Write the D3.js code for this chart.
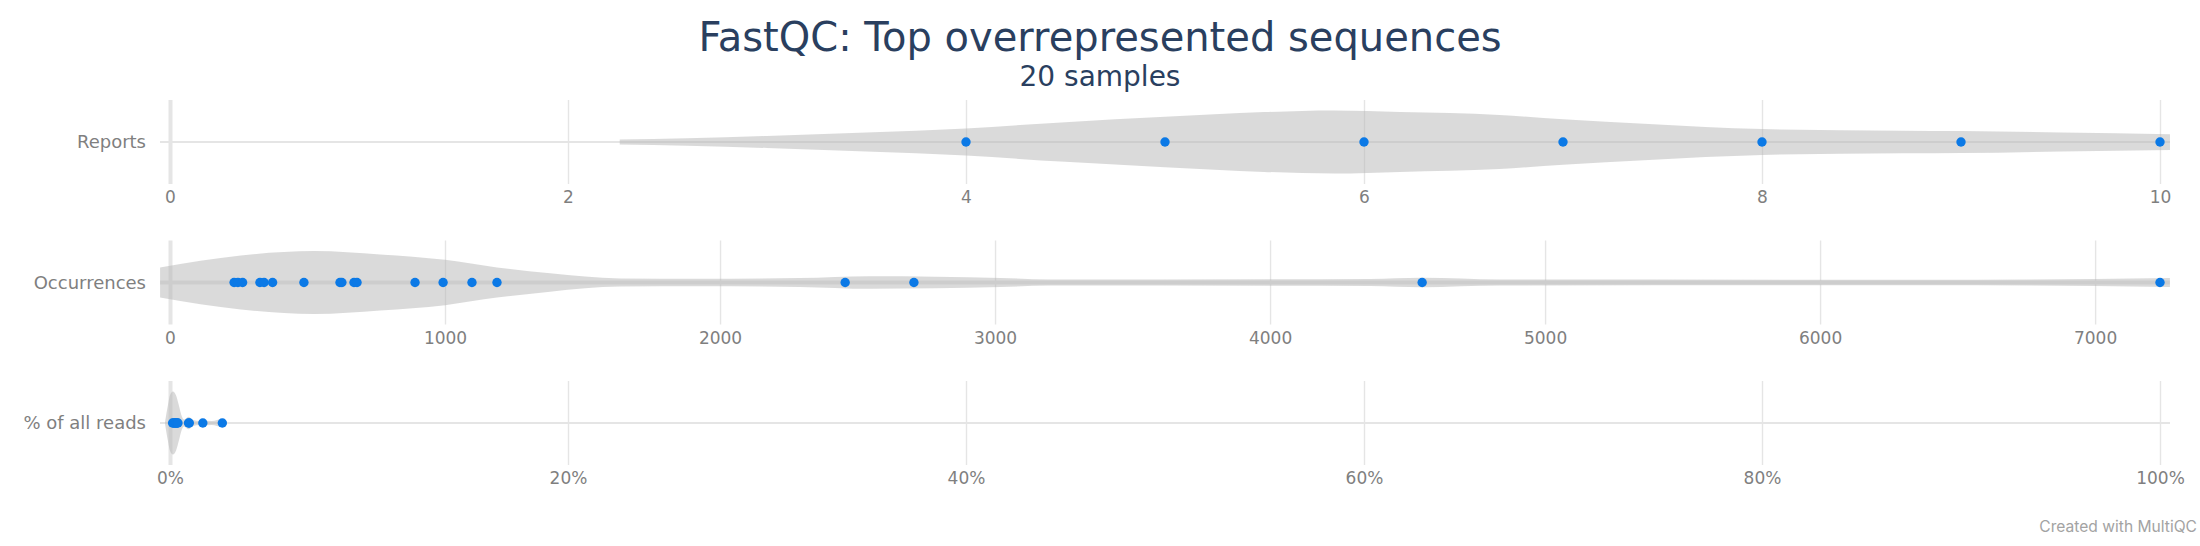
<!DOCTYPE html>
<html>
<head>
<meta charset="utf-8">
<script src="https://cdnjs.cloudflare.com/ajax/libs/d3/7.8.5/d3.min.js"></script>
<style>
html, body { margin: 0; padding: 0; background: #fff; }
svg { display: block; }
text { font-family: "DejaVu Sans", sans-serif; }
</style>
</head>
<body>
<svg id="chart" width="2200" height="546"></svg>
<script>
var categories = ["Reports", "Occurrences", "% of all reads"];

// points
var reportsValues = [4, 5, 6, 7, 8, 9, 10];
var occurrencesValues = [233, 247, 264, 327, 342, 373, 487, 618, 625, 669, 680, 891, 993, 1098, 1189, 2455, 2705, 4553, 7236];
var percentValues = [0.13, 0.18, 0.22, 0.27, 0.32, 0.36, 0.4, 0.93, 0.97, 1.65, 2.63];

// violin outlines, value + width relative to the widest one
var reportsViolinX = [2.26, 2.6, 3, 3.5, 4, 4.5, 5, 5.5, 5.85, 6.18, 6.68, 7, 7.43, 8, 8.7, 9, 9.5, 10.05];
var reportsViolinW = [0.08, 0.12, 0.19, 0.30, 0.43, 0.63, 0.80, 0.95, 1, 0.95, 0.86, 0.72, 0.57, 0.41, 0.36, 0.35, 0.30, 0.25];
var occurrencesViolinX = [-36, 258, 524, 764, 1000, 1189, 1382, 1636, 1927, 2291, 2545, 3018, 3200, 4364, 4553, 4836, 6375, 7000, 7272];
var occurrencesViolinW = [0.48, 0.86, 1, 0.89, 0.72, 0.48, 0.29, 0.13, 0.12, 0.14, 0.20, 0.146, 0.095, 0.11, 0.15, 0.095, 0.09, 0.11, 0.143];
var percentViolinX = [-0.25, -0.1, 0, 0.15, 0.3, 0.45, 0.6, 0.7, 0.94, 1.15, 1.5, 1.65, 2.1, 2.63, 2.86];
var percentViolinW = [0.03, 0.58, 0.88, 1, 0.88, 0.55, 0.2, 0.11, 0.20, 0.095, 0.065, 0.08, 0.065, 0.13, 0.03];

var reportsTicks = [0, 2, 4, 6, 8, 10];
var occurrencesTicks = [0, 1000, 2000, 3000, 4000, 5000, 6000, 7000];
var percentTicks = [0, 20, 40, 60, 80, 100];

var rows = [
	{ name: categories[0], values: reportsValues, vx: reportsViolinX, vw: reportsViolinW, ticks: reportsTicks, max: 10, fmt: function(d){ return d; } },
	{ name: categories[1], values: occurrencesValues, vx: occurrencesViolinX, vw: occurrencesViolinW, ticks: occurrencesTicks, max: 7236, fmt: function(d){ return d; } },
	{ name: categories[2], values: percentValues, vx: percentViolinX, vw: percentViolinW, ticks: percentTicks, max: 100, fmt: function(d){ return d + "%"; } }
];

var svg = d3.select("#chart");
var xLeft = 170, xRight = 2160;
var rowHalf = 42;

var y = d3.scalePoint().domain(categories).range([142, 423]);
var w = d3.scaleLinear().domain([0, 1]).range([0, 31.5]);

// titles
svg.append("text").attr("x", 1100).attr("y", 51).attr("text-anchor", "middle")
	.attr("font-size", 40).attr("fill", "#2a3f5f").text("FastQC: Top overrepresented sequences");
svg.append("text").attr("x", 1100).attr("y", 86).attr("text-anchor", "middle")
	.attr("font-size", 28).attr("fill", "#2a3f5f").text("20 samples");

rows.forEach(function(row){
	var cy = y(row.name);
	var x = d3.scaleLinear().domain([0, row.max]).range([xLeft, xRight]);

	var g = svg.append("g");

	// axis + grid
	var axis = d3.axisBottom(x)
		.tickValues(row.ticks)
		.tickFormat(row.fmt)
		.tickSize(-rowHalf * 2)
		.tickPadding(7);
	var ax = g.append("g").attr("transform", "translate(0," + (cy + rowHalf) + ")").call(axis);
	ax.select(".domain").remove();
	ax.selectAll(".tick line")
		.attr("stroke", "#e5e5e5")
		.attr("stroke-width", function(d){ return d === 0 ? 4 : 1.4; });
	ax.selectAll(".tick text")
		.attr("font-size", 17)
		.attr("font-family", "DejaVu Sans")
		.attr("fill", "#7f7f7f");

	// category line, thicker on the occurrences row
	g.append("line").attr("x1", 160).attr("x2", 2170).attr("y1", cy).attr("y2", cy)
		.attr("stroke", "#e5e5e5").attr("stroke-width", row.name === "Occurrences" ? 4 : 2);

	// violin
	var area = d3.area()
		.curve(d3.curveMonotoneX)
		.x(function(d){ return x(d[0]); })
		.y0(function(d){ return cy - w(d[1]); })
		.y1(function(d){ return cy + w(d[1]); });
	g.append("path")
		.datum(d3.zip(row.vx, row.vw))
		.attr("d", area)
		.attr("fill", "#b5b5b5")
		.attr("fill-opacity", 0.5);

	// label
	g.append("text").attr("x", 146).attr("y", cy).attr("dy", ".35em").attr("text-anchor", "end")
		.attr("font-size", 18).attr("fill", "#7f7f7f").text(row.name);

	// points
	g.selectAll("circle")
		.data(row.values)
		.enter()
		.append("circle")
		.attr("cx", function(d){ return x(d); })
		.attr("cy", cy)
		.attr("r", 4.7)
		.attr("fill", "#0b79e6");
});

svg.append("text").attr("x", 2197).attr("y", 532).attr("text-anchor", "end")
	.style("font-family", "Inter, sans-serif")
	.attr("font-size", 15.6).attr("fill", "#a3a3a3").text("Created with MultiQC");
</script>
</body>
</html>
